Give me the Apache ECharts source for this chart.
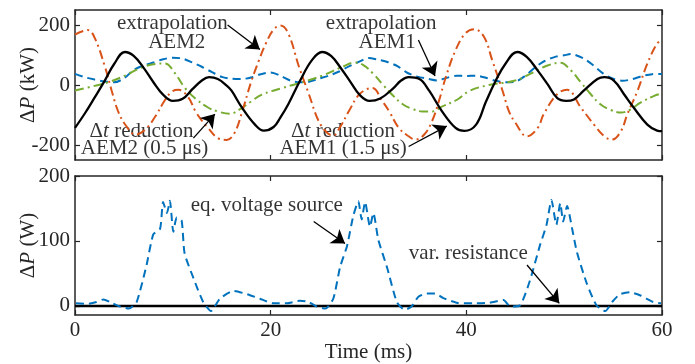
<!DOCTYPE html>
<html>
<head>
<meta charset="utf-8">
<script src="https://cdn.jsdelivr.net/npm/echarts@6/dist/echarts.min.js"></script>
<style>
html,body{margin:0;padding:0;background:#fff;}
#chart{width:695px;height:364px;}
</style>
</head>
<body>
<div id="chart"></div>
<script>
// ---------- data ----------
const timeTicks = [0, 20, 40, 60];
const topYTicks = [-200, 0, 200];
const botYTicks = [0, 100, 200];

// top panel, ΔP (kW) vs time (ms)
const dtReductionAEM1 = [[0,-143],[1,-95],[2,-42],[3,12],[4,70],[5.1,110],[6,97],[7,58],[8,10],[9,-32],[10,-53],[11,-46],[12,-14],[13,16],[13.7,26],[14.6,20],[15.5,-2],[16,-19],[17,-72],[18.4,-132],[19.3,-152],[20.3,-140],[21,-108],[21.8,-64],[23,14],[24.2,82],[25.25,110],[26.2,96],[27.2,55],[28.2,8],[29.1,-33],[30.1,-53],[31.2,-45],[32.5,-12],[33.3,14],[34.1,26],[35.2,20],[36.2,-19],[37.5,-87],[38.9,-143],[39.8,-153],[41,-132],[42,-56],[43,14],[44,71],[45.2,110],[46.2,93],[47.3,48],[48.3,3],[49.3,-44],[50.2,-53],[51,-48],[52,-19],[53.4,20],[54.1,26],[55.1,14],[56.1,-30],[57.1,-75],[58.5,-132],[59.5,-152],[60,-154]];
const extrapAEM2 = [[0,168],[1.3,183],[2.0,158],[3.07,60],[3.75,-19],[4.4,-87],[5.2,-135],[6.2,-165],[7.2,-148],[8.2,-105],[9.2,-50],[9.9,-22],[10.6,-16],[11.6,-42],[12.3,-87],[13.0,-120],[13.6,-143],[14.65,-178],[15.5,-183],[16.3,-160],[17.1,-87],[18.0,10],[18.8,82],[19.5,138],[20.3,185],[21.0,198],[21.8,172],[22.9,60],[23.9,-30],[24.9,-120],[25.8,-160],[26.4,-168],[27.1,-140],[28.0,-87],[29.1,-30],[30.4,-10],[31.4,-53],[32.1,-87],[33.1,-143],[34.1,-171],[34.8,-182],[35.7,-165],[36.5,-120],[37.2,-53],[37.9,26],[38.9,116],[39.9,172],[40.8,186],[41.8,161],[42.65,82],[43.7,-19],[44.35,-87],[45.0,-125],[46.2,-171],[47.3,-143],[47.9,-98],[49.3,-30],[50.3,-16],[51.7,-75],[53.05,-132],[54.1,-171],[54.9,-182],[55.8,-154],[56.45,-98],[57.5,-19],[58.5,71],[59.5,138],[60,150]];
const dtReductionAEM2 = [[0,-18],[2,-3],[3.4,9],[5.1,31],[6.8,58],[8.2,70],[9.2,72],[10.2,40],[11.2,-8],[12.3,-45],[13.6,-75],[14.6,-88],[15.8,-96],[17.0,-78],[18.0,-55],[19.1,-32],[21.2,-10],[23.2,9],[25.25,31],[27.3,60],[28.6,75],[29.4,68],[30.5,37],[31.5,0],[32.5,-35],[33.5,-64],[34.5,-80],[35.5,-88],[36.5,-88],[37.5,-72],[39,-50],[40.3,-20],[42.3,0],[44.9,14],[46.9,43],[48.3,65],[49.6,74],[50.7,48],[51.7,9],[52.7,-30],[53.7,-64],[54.75,-83],[55.8,-92],[56.8,-81],[57.8,-59],[59.2,-36],[60,-28]];
const extrapAEM1 = [[0,37],[1,26],[2,18],[3,12],[4,9],[5,22],[6,50],[7,65],[8,75],[9,86],[10,91],[11,88],[12,75],[13,60],[14,43],[15,27],[16,21],[17,20],[18,25],[19,36],[20,42],[21,31],[22,15],[23,9],[24,12],[25,22],[26,32],[27,45],[28,62],[29,77],[30,90],[31,84],[32,76],[33,62],[34,40],[35,28],[36,21],[37,15],[38,24],[39,31],[40,30],[41,31],[42,24],[43,14],[44,9],[45,11],[46,30],[47,58],[48,80],[49,93],[50,99],[50.7,103],[52,88],[53,65],[54,38],[55,21],[56,14],[57,20],[58,30],[59,36],[60,37]];

// bottom panel, ΔP (W) vs time (ms)
const eqVoltageSource = [[0.1,4],[1.2,3],[2.2,6],[2.9,10],[3.6,6],[4.4,0],[5.5,-4],[6.3,6],[7.3,62],[8.0,110],[8.7,119],[9.0,160],[9.4,143],[9.7,162],[10.05,114],[10.4,136],[10.9,131],[11.2,81],[12.1,43],[13.1,6],[13.9,-8],[14.8,11],[16.2,23],[17.6,18],[18.9,11],[20.3,4],[21.6,4],[23.0,8],[23.9,6],[24.7,-1],[25.6,-4],[26.4,11],[27.1,60],[27.8,92],[28.45,139],[28.96,161],[29.3,133],[29.65,160],[30.15,122],[30.5,143],[31,102],[31.9,59],[32.9,6],[33.7,-6],[34.4,-1],[35.1,14],[35.95,19],[36.8,19],[37.65,12],[39,5],[40.7,4],[42.4,5],[43.8,9],[44.5,-1],[45.5,1],[46.5,39],[47.5,92],[48.2,125],[48.7,163],[49.2,125],[49.6,158],[49.9,130],[50.3,154],[50.8,120],[51.3,83],[52.3,35],[53.3,1],[54.2,-8],[54.9,6],[55.7,18],[56.7,21],[57.8,16],[59.1,6],[59.9,4]];
const varResistance = [[0,0],[60,0]];

// ---------- chart ----------
const FONT = 'Liberation Serif';
const AX = '#262626';
const FS = 21;
const chart = echarts.init(document.getElementById('chart'), null, {renderer:'canvas'});

function xAx(grid, pos, labels) {
  return {
    type:'value', gridIndex:grid, position:pos, min:timeTicks[0], max:timeTicks[timeTicks.length-1], interval:20,
    axisLine:{show:true, onZero:false, lineStyle:{color:AX, width:1.5}},
    axisTick:{show:true, inside:true, length:5, lineStyle:{color:AX, width:1.2}},
    axisLabel:{show:labels, color:AX, fontFamily:FONT, fontSize:FS, margin:5},
    splitLine:{show:false},
    name: labels ? 'Time (ms)' : '',
    nameLocation:'middle', nameGap:27,
    nameTextStyle:{color:AX, fontFamily:FONT, fontSize:FS}
  };
}
function yAx(grid, pos, min, max, ticks, labels, name) {
  return {
    type:'value', gridIndex:grid, position:pos, min:min, max:max,
    axisLine:{show:true, onZero:false, lineStyle:{color:AX, width:1.5}},
    axisTick:{show:true, inside:true, length:5, customValues:ticks, lineStyle:{color:AX, width:1.2}},
    axisLabel:{show:labels, customValues:ticks, color:AX, fontFamily:FONT, fontSize:FS, margin:5},
    splitLine:{show:false},
    name: name || '',
    nameLocation:'middle', nameGap:36, nameMoveOverlap:false,
    nameTextStyle:{color:AX, fontFamily:FONT, fontSize:FS,
      rich:{i:{fontStyle:'italic', fontFamily:FONT, fontSize:FS, color:AX}}}
  };
}

const noteLabel = {show:true, position:'inside', color:'#000', fontFamily:FONT, fontSize:FS,
  rich:{i:{fontStyle:'italic', fontFamily:FONT, fontSize:FS, color:'#000'}}};
function note(x, y, text) { return {value:[x, y], label:Object.assign({}, noteLabel, {formatter:text})}; }
function arrow(x1, y1, x2, y2) { return [{coord:[x1, y1]}, {coord:[x2, y2]}]; }
const arrowStyle = {
  silent:true, animation:false, symbol:['none','arrow'], symbolSize:13,
  lineStyle:{color:'#000', width:1.3, type:'solid'},
  itemStyle:{color:'#000'},
  label:{show:false}
};

const option = {
  animation:false,
  grid:[
    {left:75, top:10, width:587, height:150},
    {left:75, top:176, width:587, height:150}
  ],
  xAxis:[ xAx(0,'bottom',false), xAx(0,'top',false), xAx(1,'bottom',true), xAx(1,'top',false) ],
  yAxis:[
    yAx(0,'left',-250,250,topYTicks,true,'Δ{i|P} (kW)'),
    yAx(0,'right',-250,250,topYTicks,false),
    yAx(1,'left',-14,200,botYTicks,true,'Δ{i|P} (W)'),
    yAx(1,'right',-14,200,botYTicks,false)
  ],
  series:[
    {type:'line', xAxisIndex:0, yAxisIndex:0, data:extrapAEM1, showSymbol:false, smooth:0.3,
     lineStyle:{color:'#0072BD', width:2, type:[8,5]}},
    {type:'line', xAxisIndex:0, yAxisIndex:0, data:dtReductionAEM2, showSymbol:false, smooth:0.4,
     lineStyle:{color:'#77AC30', width:2, type:[9,4,2,4]}},
    {type:'line', xAxisIndex:0, yAxisIndex:0, data:extrapAEM2, showSymbol:false, smooth:0.4,
     lineStyle:{color:'#D95319', width:2, type:[9,4,2,4]}},
    {type:'line', xAxisIndex:0, yAxisIndex:0, data:dtReductionAEM1, showSymbol:false, smooth:0.4,
     lineStyle:{color:'#000', width:2.3}},
    {type:'scatter', xAxisIndex:0, yAxisIndex:0, symbolSize:0, silent:true,
     data:[
       note(9.95, 206, 'extrapolation'),
       note(10.4, 142, 'AEM2'),
       note(31.3, 206, 'extrapolation'),
       note(31.9, 142, 'AEM1'),
       note(6.8, -154, 'Δ{i|t} reduction'),
       note(7.1, -210, 'AEM2 (0.5 μs)'),
       note(27.4, -154, 'Δ{i|t} reduction'),
       note(27.4, -210, 'AEM1 (1.5 μs)')
     ],
     markLine:Object.assign({}, arrowStyle, {data:[
       arrow(15.6, 200, 18.9, 118),
       arrow(35.1, 150, 36.8, 30),
       arrow(12.1, -177, 14.3, -97),
       arrow(34.1, -205, 38.0, -137)
     ]})
    },
    {type:'line', xAxisIndex:2, yAxisIndex:2, data:varResistance, showSymbol:false,
     lineStyle:{color:'#000', width:2.5}},
    {type:'line', xAxisIndex:2, yAxisIndex:2, data:eqVoltageSource, showSymbol:false, smooth:0.2,
     lineStyle:{color:'#0072BD', width:2, type:[8,5]}},
    {type:'scatter', xAxisIndex:2, yAxisIndex:2, symbolSize:0, silent:true,
     data:[
       note(19.6, 154, 'eq. voltage source'),
       note(40.2, 80, 'var. resistance')
     ],
     markLine:Object.assign({}, arrowStyle, {data:[
       arrow(24.4, 130, 27.6, 96),
       arrow(46.2, 63, 49.5, 4)
     ]})
    }
  ]
};
chart.setOption(option);
</script>
</body>
</html>
